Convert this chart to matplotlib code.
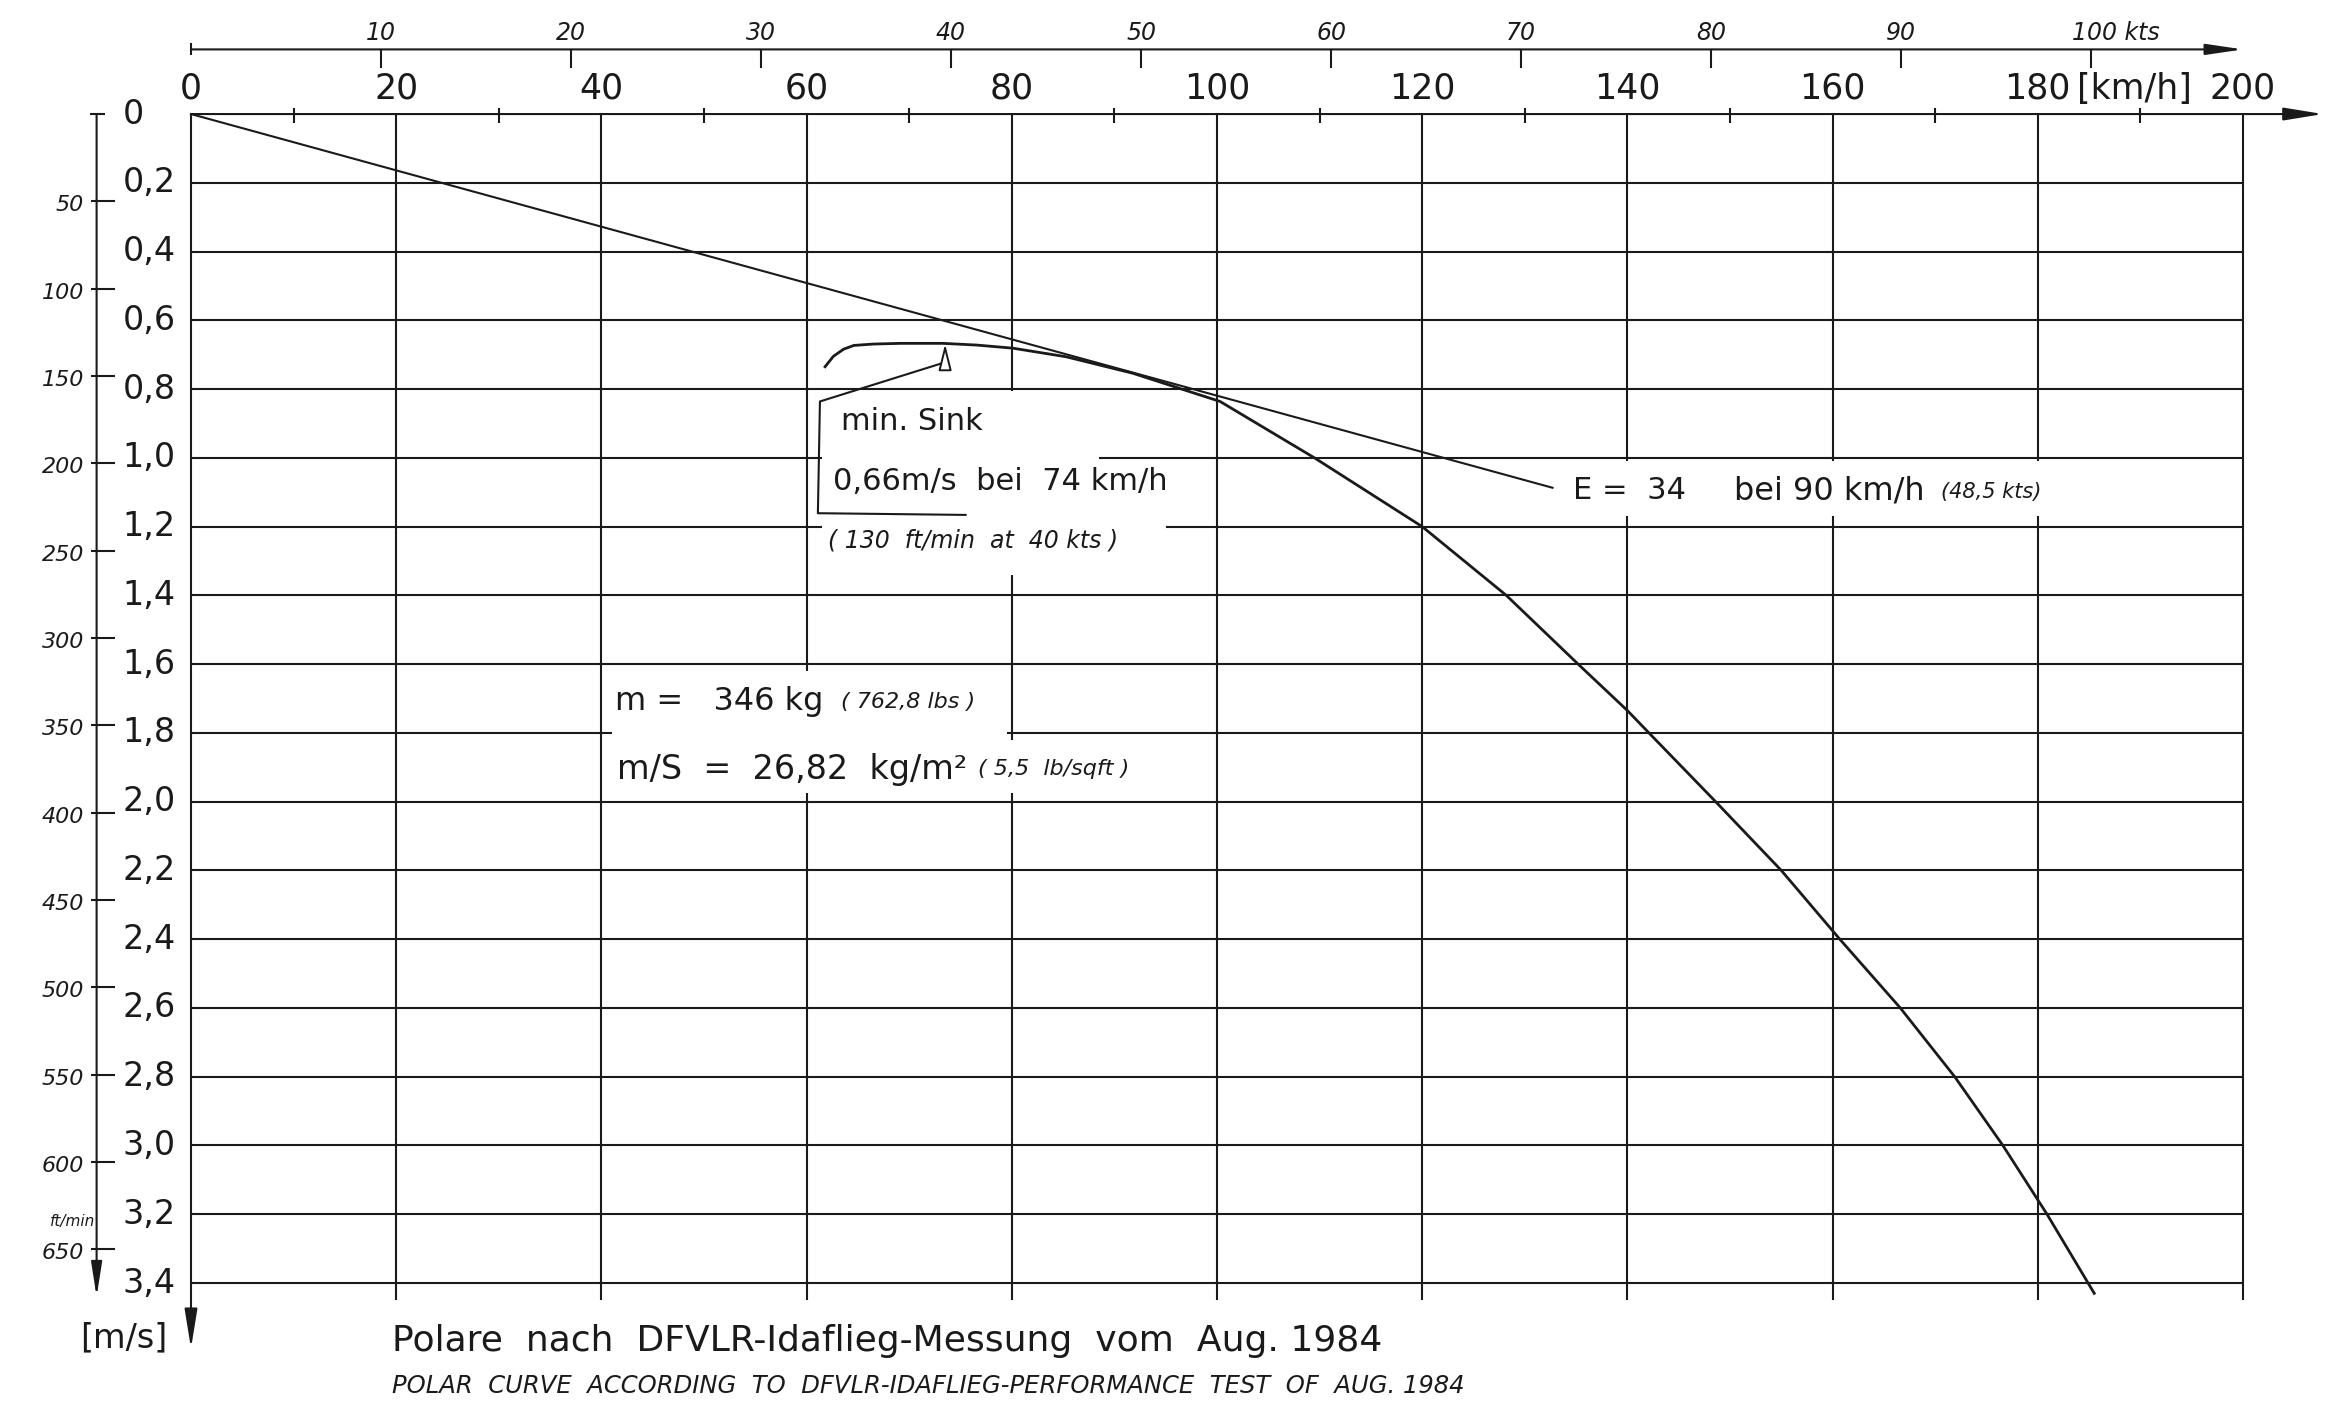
"""
Polare nach DFVLR-Idaflieg-Messung (Aug. 1984)
Nachzeichnung des Polardiagramms mit km/h-, kts-, m/s- und ft/min-Skalen
"""

import matplotlib.pyplot as plt
from matplotlib.patches import Rectangle

# Daten :
v_polare = [61.8, 62.6, 63.6, 64.6, 66.5, 69.1, 73.3, 76.6, 80.1, 85.3, 91.8, 100.3,
            109.5, 120.0, 128.2, 135.2, 140.0, 142.1, 148.6, 155.0, 160.7, 166.6,
            171.9, 176.6, 180.9, 185.5]                                             # km/h
w_polare = [0.735, 0.705, 0.684, 0.673, 0.669, 0.667, 0.667, 0.672, 0.681, 0.706, 0.754, 0.836,
            1.0, 1.2, 1.4, 1.6, 1.735, 1.8, 2.0, 2.2, 2.4, 2.6,
            2.8, 3.0, 3.2, 3.43]                                                    # m/s

v_tangente = [0.0, 132.7]     # Tangente vom Ursprung (E = 34)
w_tangente = [0.0, 1.087]

kmh_ticks = [0, 20, 40, 60, 80, 100, 120, 140, 160, 180, 200]
ms_ticks = [0, 0.2, 0.4, 0.6, 0.8, 1.0, 1.2, 1.4, 1.6, 1.8, 2.0, 2.2, 2.4, 2.6, 2.8, 3.0, 3.2, 3.4]
ms_labels = ["0", "0,2", "0,4", "0,6", "0,8", "1,0", "1,2", "1,4", "1,6", "1,8",
             "2,0", "2,2", "2,4", "2,6", "2,8", "3,0", "3,2", "3,4"]
kts_ticks = [10, 20, 30, 40, 50, 60, 70, 80, 90, 100]
ftmin_ticks = [50, 100, 150, 200, 250, 300, 350, 400, 450, 500, 550, 600, 650]

KTS = 1.852        # km/h pro kt
FTMIN = 0.00508    # m/s pro ft/min
ink = "#1a1a1a"

plt.rcParams['font.family'] = 'DejaVu Sans'

fig = plt.figure(figsize=(23.45, 14.28), dpi=100)
ax = fig.add_axes([0.08145, 0.10154, 0.87505, 0.8186])
ax.set_xlim(0, 200)
ax.set_ylim(3.4, 0)
ax.axis('off')

def linie(x, y, lw=1.5, z=1):
    ax.plot(x, y, color=ink, lw=lw, clip_on=False, zorder=z, solid_capstyle='butt')

def pfeil(p0, p1, hl=0.8, hw=0.13):
    ax.annotate('', xy=p1, xytext=p0, annotation_clip=False,
                arrowprops=dict(arrowstyle='-|>,head_length=%g,head_width=%g' % (hl, hw),
                                mutation_scale=30, color=ink, lw=1.5,
                                shrinkA=0, shrinkB=0))

# Gitter
for y in ms_ticks[1:]:
    linie([0, 200], [y, y])
for x in kmh_ticks[1:]:
    linie([x, x], [0, 3.45])

# Achsen mit Pfeilen
pfeil((0, 0), (207.8, 0))        # km/h
pfeil((0, 0), (0, 3.59))         # m/s
pfeil((0, -0.188), (200, -0.188), hl=0.75, hw=0.11)   # kts
linie([0, 0], [-0.206, -0.172])
pfeil((-9.2, 0), (-9.2, 3.44), hl=0.7, hw=0.11)        # ft/min
linie([-9.8, -8.4], [0, 0])

# km/h Skala
for x in range(10, 200, 20):
    linie([x, x], [-0.017, 0.026])
for x in kmh_ticks:
    ax.text(x, -0.074, str(x), ha='center', va='center', fontsize=25, color=ink)
ax.text(189.4, -0.074, "[km/h]", ha='center', va='center', fontsize=25, color=ink)

# kts Skala
for k in kts_ticks:
    x = k * KTS
    linie([x, x], [-0.19, -0.135])
    if k < 100:
        ax.text(x, -0.236, str(k), ha='center', va='center', fontsize=17,
                style='italic', color=ink)
ax.text(100 * KTS - 1.9, -0.236, "100 kts", ha='left', va='center', fontsize=17,
        style='italic', color=ink)

# m/s Skala
for y, lab in zip(ms_ticks, ms_labels):
    ax.text(-6.7, y, lab, ha='left', va='center', fontsize=24, color=ink)
ax.text(-6.6, 3.56, "[m/s]", ha='center', va='center', fontsize=24, color=ink)

# ft/min Skala
for f in ftmin_ticks:
    y = f * FTMIN
    linie([-9.7, -7.4], [y, y])
    ax.text(-10.4, y + 0.012, str(f), ha='right', va='center', fontsize=16,
            style='italic', color=ink)
ax.text(-9.3, 3.22, "ft/min", ha='right', va='center', fontsize=11,
        style='italic', color=ink)

# Polare und Tangente
ax.plot(v_polare, w_polare, color=ink, lw=2.0, zorder=4, clip_on=False,
        solid_joinstyle='round')
ax.plot(v_tangente, w_tangente, color=ink, lw=1.5, zorder=4, clip_on=False)

# weisse Textfelder (verdecken das Gitter)
for (x0, y0, x1, y1) in [(61.5, 0.805, 88.5, 1.12), (61.5, 1.12, 95.0, 1.34),
                         (41.0, 1.62, 79.5, 1.975), (79.5, 1.82, 95.0, 1.975),
                         (134.0, 1.01, 184.5, 1.17)]:
    ax.add_patch(Rectangle((x0, y0), x1 - x0, y1 - y0, facecolor='white',
                           edgecolor='none', zorder=2))

# min. Sink
linie([73.5, 61.3, 61.1, 75.6], [0.722, 0.836, 1.161, 1.166], lw=1.5, z=5)
ax.annotate('', xy=(73.5, 0.669), xytext=(73.5, 0.724), annotation_clip=False,
            arrowprops=dict(arrowstyle='-|>,head_length=0.8,head_width=0.2',
                            mutation_scale=20, fc='white', ec=ink, lw=1.4,
                            shrinkA=0, shrinkB=0), zorder=6)
ax.text(63.4, 0.895, "min. Sink", ha='left', va='center', fontsize=22, color=ink, zorder=6)
ax.text(62.6, 1.07, "0,66m/s  bei  74 km/h", ha='left', va='center', fontsize=22,
        color=ink, zorder=6)
ax.text(62.1, 1.24, "( 130  ft/min  at  40 kts )", ha='left', va='center', fontsize=17,
        style='italic', color=ink, zorder=6)

# Gleitzahl
ax.text(134.7, 1.095, "E =  34", ha='left', va='center', fontsize=22, color=ink, zorder=6)
ax.text(150.4, 1.095, "bei 90 km/h", ha='left', va='center', fontsize=23, color=ink, zorder=6)
ax.text(170.6, 1.1, "(48,5 kts)", ha='left', va='center', fontsize=15,
        style='italic', color=ink, zorder=6)

# Masse
ax.text(41.3, 1.71, "m =   346 kg", ha='left', va='center', fontsize=23, color=ink, zorder=6)
ax.text(63.4, 1.71, "( 762,8 lbs )", ha='left', va='center', fontsize=16,
        style='italic', color=ink, zorder=6)
ax.text(41.5, 1.905, "m/S  =  26,82  kg/m²", ha='left', va='center', fontsize=24,
        color=ink, zorder=6)
ax.text(76.7, 1.905, "( 5,5  lb/sqft )", ha='left', va='center', fontsize=16,
        style='italic', color=ink, zorder=6)

# Titel
ax.text(19.6, 3.57, "Polare  nach  DFVLR-Idaflieg-Messung  vom  Aug. 1984", ha='left',
        va='center', fontsize=26, color=ink)
ax.text(19.6, 3.70, "POLAR  CURVE  ACCORDING  TO  DFVLR-IDAFLIEG-PERFORMANCE  TEST  OF  AUG. 1984",
        ha='left', va='center', fontsize=17.5, style='italic', color=ink)

plt.savefig("out.png", dpi=100, facecolor='white')
